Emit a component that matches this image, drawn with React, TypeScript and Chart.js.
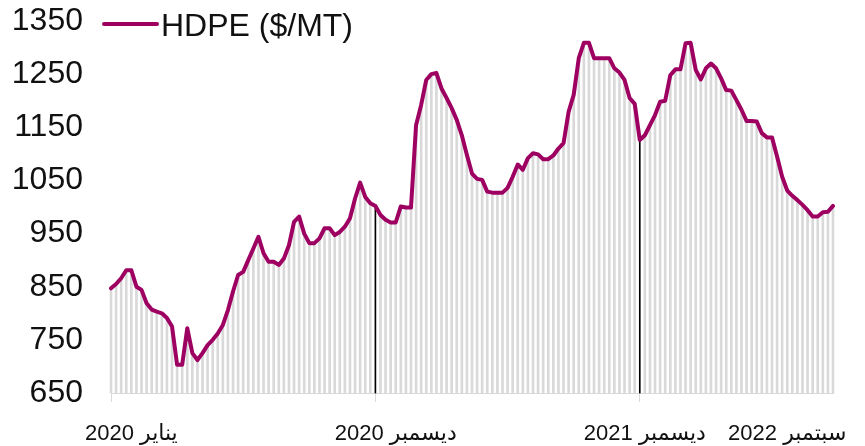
import React, { useEffect, useRef } from 'react';
import { Chart, registerables } from 'chart.js';

Chart.register(...registerables);

// Weekly HDPE price, Jan 2020 -> Sep 2022 ($/MT)
const HDPE: number[] = [
  847, 855, 866, 881, 881, 850, 844, 819, 807, 803,
  800, 791, 775, 703, 703, 772, 725, 712, 725, 740,
  750, 762, 778, 806, 841, 872, 878, 900, 922, 944,
  913, 897, 897, 891, 903, 928, 972, 982, 950, 932,
  932, 941, 960, 960, 947, 953, 963, 979, 1016, 1046,
  1019, 1007, 1002, 985, 976, 971, 971, 1001, 999, 999,
  1154, 1192, 1239, 1250, 1252, 1223, 1205, 1186, 1164, 1135,
  1098, 1063, 1053, 1051, 1029, 1027, 1027, 1027, 1036, 1057,
  1080, 1070, 1092, 1101, 1099, 1090, 1090, 1097, 1110, 1120,
  1179, 1211, 1280, 1309, 1309, 1280, 1280, 1280, 1280, 1261,
  1253, 1239, 1205, 1194, 1126, 1135, 1154, 1173, 1198, 1200,
  1248, 1259, 1259, 1308, 1309, 1258, 1240, 1261, 1270, 1261,
  1242, 1220, 1219, 1201, 1183, 1162, 1162, 1161, 1139, 1131,
  1131, 1095, 1057, 1031, 1021, 1013, 1004, 994, 982, 982,
  990, 991, 1002,
];

const SERIES_LABEL = 'HDPE ($/MT)';
const TICK_TEXTS = ['2020 يناير', '2020 ديسمبر', '2021 ديسمبر', '2022 سبتمبر'];
const TICK_INDEX = [4, 56, 105, 133];
const DIVIDER_INDEX = [52, 104];
const TICK_MARK_INDEX = [0, 52, 104];
const Y_MIN = 650;
const Y_MAX = 1350;
const Y_STEP = 100;

const LINE_COLOR = '#9E0062';
const DROP_COLOR = '#d9d9d9';
const FONT = "'Liberation Sans', Arial, 'DejaVu Sans', sans-serif";

const categories = HDPE.map((_, i) => {
  const k = TICK_INDEX.indexOf(i);
  return k >= 0 ? TICK_TEXTS[k] : '';
});

const legendPlugin = {
  id: 'customLegend',
  afterDraw(chart: any) {
    const ctx = chart.ctx;
    const ds = chart.data.datasets.find((d: any) => d.type === 'line');
    const left = chart.chartArea.left;
    ctx.save();
    ctx.strokeStyle = ds.borderColor;
    ctx.lineWidth = 4;
    ctx.lineCap = 'round';
    ctx.beginPath();
    ctx.moveTo(left - 7, 24);
    ctx.lineTo(left + 46, 24);
    ctx.stroke();
    ctx.font = `32px ${FONT}`;
    ctx.fillStyle = '#111';
    ctx.textBaseline = 'alphabetic';
    ctx.textAlign = 'left';
    ctx.fillText(ds.label, left + 50, 36);
    ctx.restore();
  },
};

export default function App() {
  const ref = useRef<HTMLCanvasElement | null>(null);

  useEffect(() => {
    if (!ref.current) return;
    const chart = new Chart(ref.current, {
      type: 'line',
      data: {
        labels: categories,
        datasets: [
          {
            type: 'line',
            label: SERIES_LABEL,
            data: HDPE,
            borderColor: LINE_COLOR,
            backgroundColor: LINE_COLOR,
            borderWidth: 4,
            pointRadius: 0,
            tension: 0,
            borderJoinStyle: 'round',
            borderCapStyle: 'round',
            order: 0,
          } as any,
          {
            type: 'bar',
            label: 'drop',
            data: HDPE.map((v, i) => (DIVIDER_INDEX.includes(i) ? null : v)),
            backgroundColor: DROP_COLOR,
            barThickness: 2,
            grouped: false,
            base: Y_MIN,
            order: 2,
            clip: false,
          } as any,
          {
            type: 'bar',
            label: 'divider',
            data: HDPE.map((v, i) => (DIVIDER_INDEX.includes(i) ? v : null)),
            backgroundColor: '#000000',
            barThickness: 1,
            grouped: false,
            base: Y_MIN,
            order: 1,
            clip: false,
          } as any,
        ],
      },
      options: {
        animation: false,
        responsive: false,
        devicePixelRatio: 1,
        layout: { padding: { top: 21, right: 32, left: 0, bottom: 0 } },
        plugins: {
          legend: { display: false },
          tooltip: { enabled: false },
        },
        scales: {
          x: {
            type: 'category',
            offset: false,
            grid: {
              offset: false,
              drawOnChartArea: false,
              drawTicks: true,
              tickLength: 9,
              color: (c: any) => (TICK_MARK_INDEX.includes(c.index) ? DROP_COLOR : 'rgba(0,0,0,0)'),
            },
            border: { display: true, color: DROP_COLOR, width: 1 },
            ticks: {
              autoSkip: false,
              maxRotation: 0,
              minRotation: 0,
              padding: 19,
              color: '#111',
              font: { family: FONT, size: 22 },
              callback: (_v: any, i: number) => categories[i],
            },
            afterFit: (s: any) => {
              s.height = 53;
            },
          },
          y: {
            type: 'linear',
            min: Y_MIN,
            max: Y_MAX,
            grid: { display: false, drawTicks: true, tickLength: 28 },
            border: { display: false },
            ticks: {
              stepSize: Y_STEP,
              padding: 0,
              color: '#111',
              font: { family: FONT, size: 32 },
              callback: (v: any) => String(v),
            },
            afterFit: (s: any) => {
              s.width = 111;
            },
          },
        },
      },
      plugins: [legendPlugin],
    });
    return () => chart.destroy();
  }, []);

  return (
    <div style={{ position: 'fixed', left: 0, top: 0, width: 865, height: 446, background: '#fff' }}>
      <canvas ref={ref} width={865} height={446} style={{ display: 'block', width: 865, height: 446 }} />
    </div>
  );
}
